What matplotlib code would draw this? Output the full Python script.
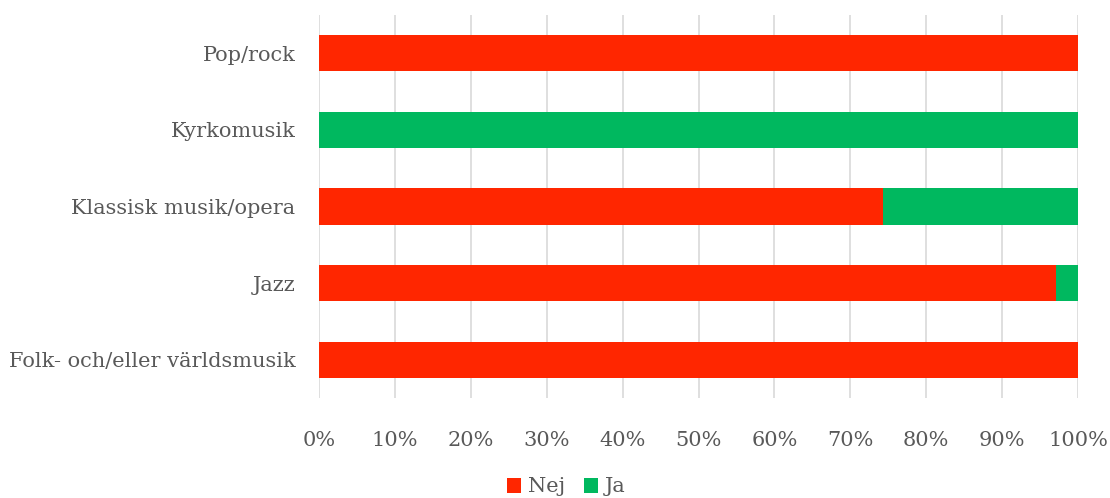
import matplotlib
matplotlib.use("Agg")
import matplotlib.pyplot as plt
from matplotlib.ticker import PercentFormatter

categories = ["Folk- och/eller världsmusik", "Jazz", "Klassisk musik/opera", "Kyrkomusik", "Pop/rock"]
nej = [100.0, 97.1, 74.3, 0.0, 100.0]
ja = [0.0, 2.9, 25.7, 100.0, 0.0]

RED = "#FF2600"
GREEN = "#00B85F"
TEXT = "#595959"

plt.rcParams["font.family"] = ["DejaVu Serif"]

fig = plt.figure(figsize=(11.1, 4.98), dpi=100)
ax = fig.add_axes([319 / 1110, 1 - 398 / 498, (1078 - 319) / 1110, 383 / 498])

y = range(len(categories))
ax.barh(y, nej, height=0.47, color=RED, label="Nej", zorder=3)
ax.barh(y, ja, left=nej, height=0.47, color=GREEN, label="Ja", zorder=3)

ax.set_xlim(0, 100)
ax.set_ylim(-0.5, len(categories) - 0.5)
ax.set_xticks(range(0, 101, 10))
ax.xaxis.set_major_formatter(PercentFormatter(decimals=0))
ax.set_yticks(list(y))
ax.set_yticklabels(categories)

ax.grid(axis="x", color="#D9D9D9", linewidth=1.2, zorder=0)
for s in ax.spines.values():
    s.set_visible(False)
ax.tick_params(axis="x", length=0, pad=24, labelsize=15, labelcolor=TEXT)
ax.tick_params(axis="y", length=0, pad=17, labelsize=15, labelcolor=TEXT)

fig.legend(*ax.get_legend_handles_labels(), loc="center", bbox_to_anchor=(0.51, 1 - 487 / 498),
           ncol=2, frameon=False, fontsize=15, labelcolor=TEXT, handlelength=0.7,
           handleheight=0.7, handletextpad=0.3, columnspacing=0.9, borderpad=0)

fig.savefig("out.png", dpi=100)
